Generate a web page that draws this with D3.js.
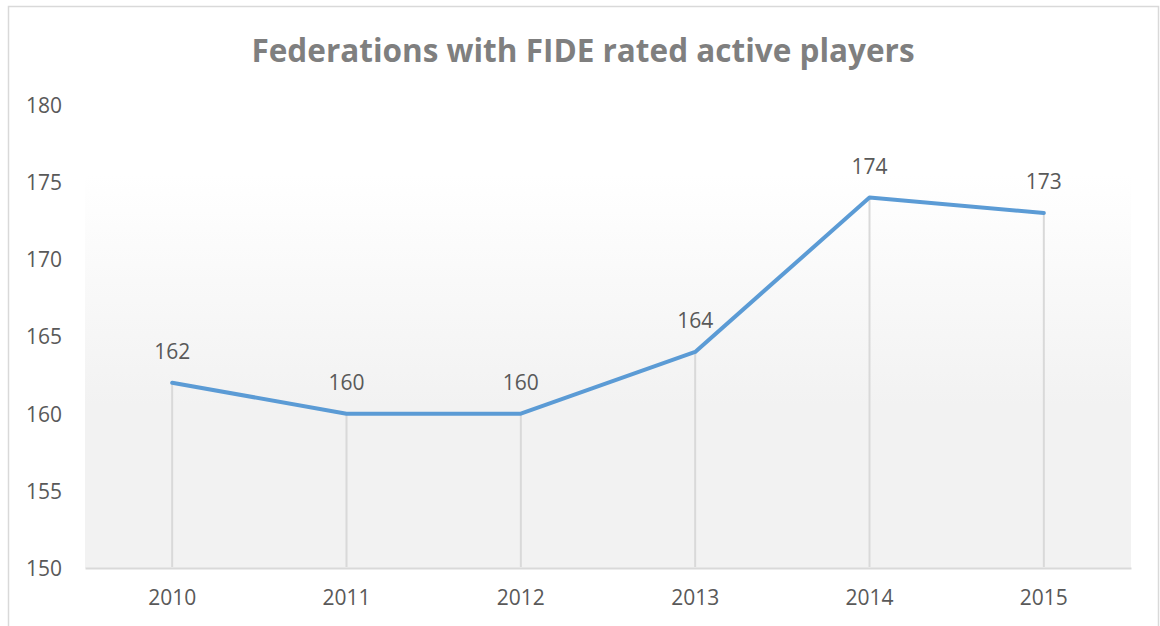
<!DOCTYPE html>
<html><head><meta charset="utf-8">
<script src="https://cdn.jsdelivr.net/npm/d3@7"></script>
<style>body{margin:0;background:#fff;}svg{display:block;}</style>
</head><body>
<svg id="c" width="1160" height="626"></svg>
<script>
const years = ["2010","2011","2012","2013","2014","2015"];
const federations = [162,160,160,164,174,173];
const yTicks = [150,155,160,165,170,175,180];
const titleText = "Federations with FIDE rated active players";

(function(){
const svg = d3.select("#c");
const font = "'Open Sans', 'DejaVu Sans', sans-serif";
const pL = 85, pR = 1131, pT = 105, pB = 568;

// chart frame
svg.append("path").attr("d","M8.5,630 V6.5 H1158.5 V630")
  .attr("fill","none").attr("stroke","#d9d9d9").attr("stroke-width",1.5);

const defs = svg.append("defs");
const g = defs.append("linearGradient").attr("id","bg").attr("x1",0).attr("y1",0).attr("x2",0).attr("y2",1);
g.append("stop").attr("offset","15%").attr("stop-color","#ffffff");
g.append("stop").attr("offset","65%").attr("stop-color","#f2f2f2");
g.append("stop").attr("offset","100%").attr("stop-color","#f2f2f2");

const x = d3.scaleBand().domain(years).range([pL,pR]);
const y = d3.scaleLinear().domain([150,180]).range([pB,pT]);

svg.append("rect").attr("x",pL).attr("y",pT).attr("width",pR-pL).attr("height",pB-pT)
  .attr("fill","url(#bg)");

// title
svg.append("text").attr("x",583).attr("y",62).attr("text-anchor","middle")
  .attr("font-family",font).attr("font-weight","bold").attr("font-size",31.5)
  .attr("fill","#7f7f7f").text(titleText);

// y axis labels
const yAxis = d3.axisLeft(y).tickValues(yTicks).tickSize(0).tickPadding(0).tickFormat(d3.format("d"));
const ya = svg.append("g").attr("transform",`translate(62,0)`).call(yAxis);
ya.select(".domain").remove();
ya.selectAll("text").attr("font-family",font).attr("font-size",21).attr("fill","#595959").attr("dy","0.35em");

// x axis
const xAxis = d3.axisBottom(x).tickSize(0).tickPadding(0);
const xa = svg.append("g").attr("transform",`translate(0,${pB})`).call(xAxis);
xa.select(".domain").attr("stroke","#d9d9d9").attr("stroke-width",2);
xa.selectAll("text").attr("font-family",font).attr("font-size",21).attr("fill","#595959").attr("dy","1.75em");

const cx = d => x(d) + x.bandwidth()/2;

// drop lines
svg.append("g").selectAll("line").data(years).join("line")
  .attr("x1",d=>cx(d)).attr("x2",d=>cx(d))
  .attr("y1",(d,i)=>y(federations[i])).attr("y2",pB-1)
  .attr("stroke","#d9d9d9").attr("stroke-width",2);

// line
const line = d3.line().x((d,i)=>cx(years[i])).y(d=>y(d));
svg.append("path").datum(federations).attr("d",line)
  .attr("fill","none").attr("stroke","#5b9bd5").attr("stroke-width",4).attr("stroke-linejoin","round").attr("stroke-linecap","round");

// labels
svg.append("g").selectAll("text").data(federations).join("text")
  .attr("x",(d,i)=>cx(years[i])).attr("y",d=>y(d)-24)
  .attr("text-anchor","middle").attr("font-family",font).attr("font-size",21).attr("fill","#595959")
  .text(d=>d);
})();
</script>
</body></html>
